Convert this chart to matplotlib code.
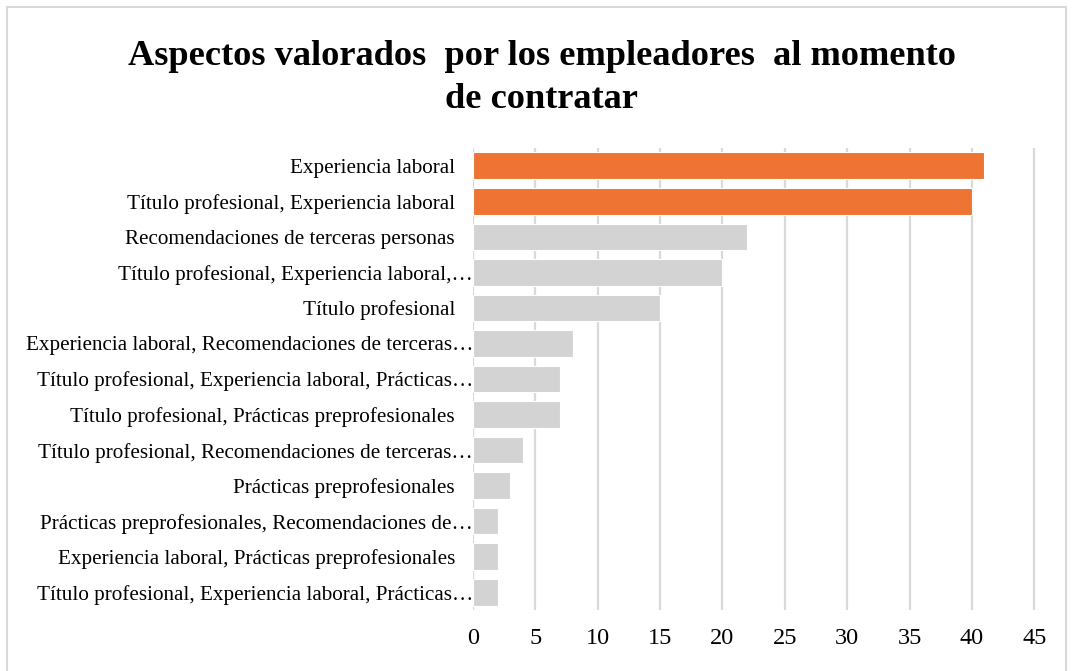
import matplotlib.pyplot as plt
from matplotlib.patches import Rectangle
from matplotlib.transforms import ScaledTranslation

categories = [
    "Experiencia laboral",
    "Título profesional, Experiencia laboral",
    "Recomendaciones de terceras personas",
    "Título profesional, Experiencia laboral,…",
    "Título profesional",
    "Experiencia laboral, Recomendaciones de terceras…",
    "Título profesional, Experiencia laboral, Prácticas…",
    "Título profesional, Prácticas preprofesionales",
    "Título profesional, Recomendaciones de terceras…",
    "Prácticas preprofesionales",
    "Prácticas preprofesionales, Recomendaciones de…",
    "Experiencia laboral, Prácticas preprofesionales",
    "Título profesional, Experiencia laboral, Prácticas…",
]
values = [41, 40, 22, 20, 15, 8, 7, 7, 4, 3, 2, 2, 2]
highlight = [True, True] + [False] * 11
x_ticks = [0, 5, 10, 15, 20, 25, 30, 35, 40, 45]

plt.rcParams['font.family'] = ['Liberation Serif', 'DejaVu Serif']

fig = plt.figure(figsize=(10.73, 6.71), dpi=100)
ax = fig.add_axes([473 / 1073, 1 - 610 / 671, (1038 - 473) / 1073, (610 - 148) / 671])

colors = ['#ed7432' if h else '#d3d3d3' for h in highlight]
pos = list(range(len(categories)))
ax.barh(pos, values, height=0.75, color=colors, edgecolor='white', linewidth=0.8, zorder=3)
ax.set_ylim(len(categories) - 0.5, -0.5)
ax.set_yticks(pos)
ax.set_yticklabels(categories, fontsize=15.2)
ax.set_xlim(0, 45.3)
ax.set_xticks(x_ticks)
ax.set_xticklabels([str(t) for t in x_ticks], fontsize=17.5)
ax.grid(axis='x', color='#d9d9d9', linewidth=1.6, zorder=0)
ax.tick_params(axis='both', length=0)
ax.tick_params(axis='x', pad=13)
ax.tick_params(axis='y', pad=13)
for s in ax.spines.values():
    s.set_visible(False)

# truncated labels sit a bit further right, like in the original
shift = ScaledTranslation(18 / 100, 0, fig.dpi_scale_trans)
for lbl in ax.get_yticklabels():
    if lbl.get_text().endswith('…'):
        lbl.set_transform(lbl.get_transform() + shift)

fig.text(0.505, 0.884, "Aspectos valorados  por los empleadores  al momento\nde contratar",
         ha='center', va='center', multialignment='center',
         fontsize=26.2, fontweight='bold', linespacing=1.38)

fig.patches.append(Rectangle((7 / 1073, -0.01), 1059 / 1073, 1 - 7 / 671 + 0.01,
                             transform=fig.transFigure, fill=False,
                             edgecolor='#d9d9d9', linewidth=1.5))

fig.savefig('out.png', dpi=100)
